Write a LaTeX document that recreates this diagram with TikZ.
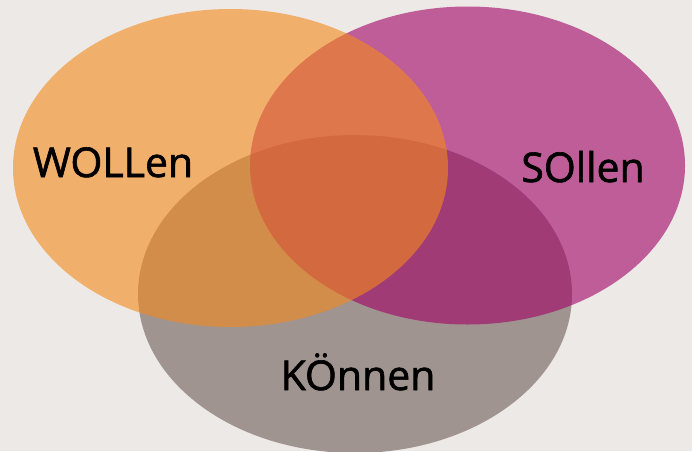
\documentclass[tikz,border=0pt]{standalone}
\usepackage{fontspec}
\setmainfont{Open Sans}
\newfontfamily\setnamefont{Open Sans}[FakeBold=1.5]
\definecolor{bg}{RGB}{237,233,230}
\definecolor{wollencol}{RGB}{245,137,28}
\definecolor{sollencol}{RGB}{160,0,100}
\definecolor{koennencol}{RGB}{160,148,144}
\begin{document}
\begin{tikzpicture}[x=1pt,y=-1pt,
  setname/.style={font=\setnamefont\fontsize{41}{41}\selectfont, text=black, inner sep=0pt, anchor=base},
  setfill/.style={fill opacity=0.6}]
\fill[bg] (0,0) rectangle (692,451);
\useasboundingbox (0,0) rectangle (692,451);
\clip (0,0) rectangle (692,451);
% three overlapping sets
\fill[koennencol] (355,294) ellipse [x radius=217, y radius=159];
\fill[sollencol, setfill] (467.5,165.5) ellipse [x radius=217.5, y radius=159];
\fill[wollencol, setfill] (230.5,168) ellipse [x radius=217.5, y radius=159];
% set names
\node[setname] (wollen) at (113,177) {WOLLen};
\node[setname] (sollen) at (583,182) {SOllen};
\node[setname] (koennen) at (358,390) {KÖnnen};
\end{tikzpicture}
\end{document}
